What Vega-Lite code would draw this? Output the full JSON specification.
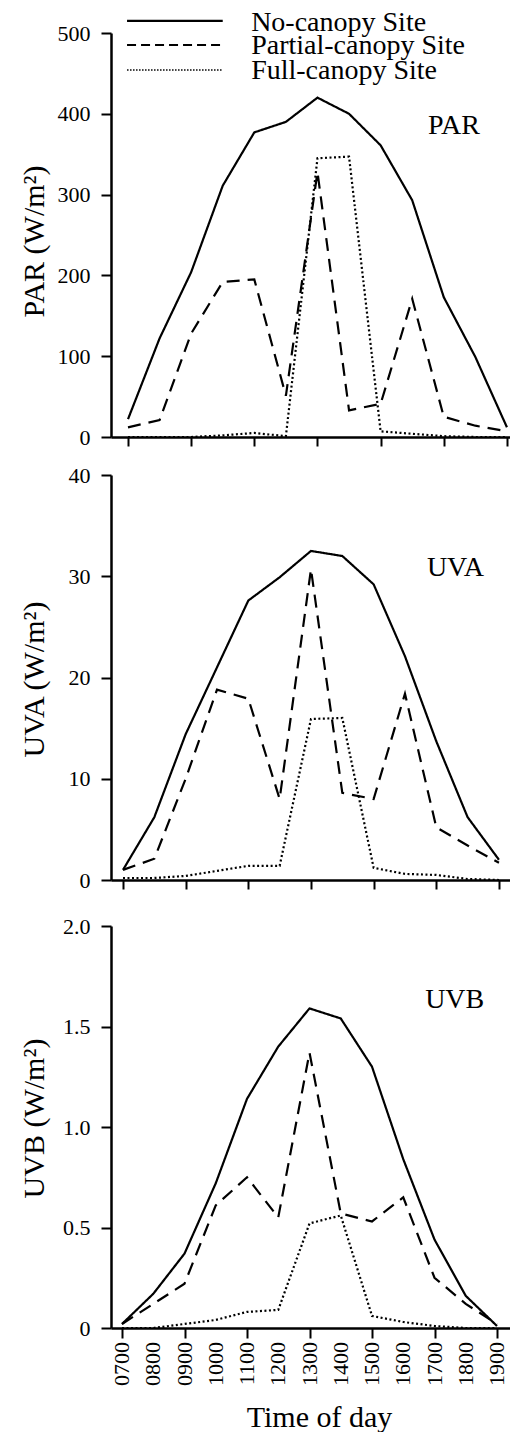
{
  "$schema": "https://vega.github.io/schema/vega-lite/v6.json",
  "background": "white",
  "padding": {"left": 19, "top": 8, "right": 0, "bottom": 0},
  "bounds": "flush",
  "spacing": 38,
  "config": {
    "font": "Liberation Serif",
    "view": {"stroke": null},
    "axis": {
      "grid": false,
      "domainColor": "black",
      "tickColor": "black",
      "labelColor": "black",
      "titleColor": "black",
      "labelFont": "Liberation Serif",
      "titleFont": "Liberation Serif",
      "labelFontSize": 22,
      "titleFontSize": 30,
      "titleFontWeight": "normal",
      "domainWidth": 2.5,
      "tickWidth": 2
    },
    "text": {"font": "Liberation Serif", "color": "black"}
  },
  "datasets": {
    "par": [
      {"time": 7, "site": "No-canopy Site", "value": 22},
      {"time": 8, "site": "No-canopy Site", "value": 122},
      {"time": 9, "site": "No-canopy Site", "value": 204},
      {"time": 10, "site": "No-canopy Site", "value": 311},
      {"time": 11, "site": "No-canopy Site", "value": 377},
      {"time": 12, "site": "No-canopy Site", "value": 390},
      {"time": 13, "site": "No-canopy Site", "value": 420},
      {"time": 14, "site": "No-canopy Site", "value": 400},
      {"time": 15, "site": "No-canopy Site", "value": 361},
      {"time": 16, "site": "No-canopy Site", "value": 293},
      {"time": 17, "site": "No-canopy Site", "value": 173},
      {"time": 18, "site": "No-canopy Site", "value": 99},
      {"time": 19, "site": "No-canopy Site", "value": 12},
      {"time": 7, "site": "Partial-canopy Site", "value": 12},
      {"time": 8, "site": "Partial-canopy Site", "value": 21},
      {"time": 9, "site": "Partial-canopy Site", "value": 128},
      {"time": 10, "site": "Partial-canopy Site", "value": 192},
      {"time": 11, "site": "Partial-canopy Site", "value": 195},
      {"time": 12, "site": "Partial-canopy Site", "value": 51},
      {"time": 13, "site": "Partial-canopy Site", "value": 328},
      {"time": 14, "site": "Partial-canopy Site", "value": 33},
      {"time": 15, "site": "Partial-canopy Site", "value": 41},
      {"time": 16, "site": "Partial-canopy Site", "value": 171},
      {"time": 17, "site": "Partial-canopy Site", "value": 25},
      {"time": 18, "site": "Partial-canopy Site", "value": 14},
      {"time": 19, "site": "Partial-canopy Site", "value": 7},
      {"time": 7, "site": "Full-canopy Site", "value": 0},
      {"time": 8, "site": "Full-canopy Site", "value": 0},
      {"time": 9, "site": "Full-canopy Site", "value": 0},
      {"time": 10, "site": "Full-canopy Site", "value": 2},
      {"time": 11, "site": "Full-canopy Site", "value": 5},
      {"time": 12, "site": "Full-canopy Site", "value": 1},
      {"time": 13, "site": "Full-canopy Site", "value": 345},
      {"time": 14, "site": "Full-canopy Site", "value": 347},
      {"time": 15, "site": "Full-canopy Site", "value": 7},
      {"time": 16, "site": "Full-canopy Site", "value": 4},
      {"time": 17, "site": "Full-canopy Site", "value": 1},
      {"time": 18, "site": "Full-canopy Site", "value": 0},
      {"time": 19, "site": "Full-canopy Site", "value": 0}
    ],
    "uva": [
      {"time": 7, "site": "No-canopy Site", "value": 1.0},
      {"time": 8, "site": "No-canopy Site", "value": 6.2},
      {"time": 9, "site": "No-canopy Site", "value": 14.4},
      {"time": 10, "site": "No-canopy Site", "value": 21.0},
      {"time": 11, "site": "No-canopy Site", "value": 27.6},
      {"time": 12, "site": "No-canopy Site", "value": 29.9},
      {"time": 13, "site": "No-canopy Site", "value": 32.5},
      {"time": 14, "site": "No-canopy Site", "value": 32.0},
      {"time": 15, "site": "No-canopy Site", "value": 29.2},
      {"time": 16, "site": "No-canopy Site", "value": 22.1},
      {"time": 17, "site": "No-canopy Site", "value": 13.7},
      {"time": 18, "site": "No-canopy Site", "value": 6.2},
      {"time": 19, "site": "No-canopy Site", "value": 2.0},
      {"time": 7, "site": "Partial-canopy Site", "value": 1.0},
      {"time": 8, "site": "Partial-canopy Site", "value": 2.1},
      {"time": 9, "site": "Partial-canopy Site", "value": 10.0},
      {"time": 10, "site": "Partial-canopy Site", "value": 18.8},
      {"time": 11, "site": "Partial-canopy Site", "value": 17.9},
      {"time": 12, "site": "Partial-canopy Site", "value": 8.0},
      {"time": 13, "site": "Partial-canopy Site", "value": 30.7},
      {"time": 14, "site": "Partial-canopy Site", "value": 8.6},
      {"time": 15, "site": "Partial-canopy Site", "value": 8.0},
      {"time": 16, "site": "Partial-canopy Site", "value": 18.4},
      {"time": 17, "site": "Partial-canopy Site", "value": 5.2},
      {"time": 18, "site": "Partial-canopy Site", "value": 3.4},
      {"time": 19, "site": "Partial-canopy Site", "value": 1.7},
      {"time": 7, "site": "Full-canopy Site", "value": 0.2},
      {"time": 8, "site": "Full-canopy Site", "value": 0.2},
      {"time": 9, "site": "Full-canopy Site", "value": 0.4},
      {"time": 10, "site": "Full-canopy Site", "value": 0.9},
      {"time": 11, "site": "Full-canopy Site", "value": 1.4},
      {"time": 12, "site": "Full-canopy Site", "value": 1.4},
      {"time": 13, "site": "Full-canopy Site", "value": 15.9},
      {"time": 14, "site": "Full-canopy Site", "value": 16.0},
      {"time": 15, "site": "Full-canopy Site", "value": 1.2},
      {"time": 16, "site": "Full-canopy Site", "value": 0.6},
      {"time": 17, "site": "Full-canopy Site", "value": 0.5},
      {"time": 18, "site": "Full-canopy Site", "value": 0.1},
      {"time": 19, "site": "Full-canopy Site", "value": 0.0}
    ],
    "uvb": [
      {"time": 7, "site": "No-canopy Site", "value": 0.02},
      {"time": 8, "site": "No-canopy Site", "value": 0.17},
      {"time": 9, "site": "No-canopy Site", "value": 0.37},
      {"time": 10, "site": "No-canopy Site", "value": 0.72},
      {"time": 11, "site": "No-canopy Site", "value": 1.14},
      {"time": 12, "site": "No-canopy Site", "value": 1.40},
      {"time": 13, "site": "No-canopy Site", "value": 1.59},
      {"time": 14, "site": "No-canopy Site", "value": 1.54},
      {"time": 15, "site": "No-canopy Site", "value": 1.30},
      {"time": 16, "site": "No-canopy Site", "value": 0.84},
      {"time": 17, "site": "No-canopy Site", "value": 0.44},
      {"time": 18, "site": "No-canopy Site", "value": 0.16},
      {"time": 19, "site": "No-canopy Site", "value": 0.01},
      {"time": 7, "site": "Partial-canopy Site", "value": 0.02},
      {"time": 8, "site": "Partial-canopy Site", "value": 0.12},
      {"time": 9, "site": "Partial-canopy Site", "value": 0.22},
      {"time": 10, "site": "Partial-canopy Site", "value": 0.61},
      {"time": 11, "site": "Partial-canopy Site", "value": 0.75},
      {"time": 12, "site": "Partial-canopy Site", "value": 0.55},
      {"time": 13, "site": "Partial-canopy Site", "value": 1.37},
      {"time": 14, "site": "Partial-canopy Site", "value": 0.57},
      {"time": 15, "site": "Partial-canopy Site", "value": 0.53},
      {"time": 16, "site": "Partial-canopy Site", "value": 0.65},
      {"time": 17, "site": "Partial-canopy Site", "value": 0.25},
      {"time": 18, "site": "Partial-canopy Site", "value": 0.12},
      {"time": 19, "site": "Partial-canopy Site", "value": 0.02},
      {"time": 7, "site": "Full-canopy Site", "value": 0.0},
      {"time": 8, "site": "Full-canopy Site", "value": 0.0},
      {"time": 9, "site": "Full-canopy Site", "value": 0.02},
      {"time": 10, "site": "Full-canopy Site", "value": 0.04},
      {"time": 11, "site": "Full-canopy Site", "value": 0.08},
      {"time": 12, "site": "Full-canopy Site", "value": 0.09},
      {"time": 13, "site": "Full-canopy Site", "value": 0.52},
      {"time": 14, "site": "Full-canopy Site", "value": 0.56},
      {"time": 15, "site": "Full-canopy Site", "value": 0.06},
      {"time": 16, "site": "Full-canopy Site", "value": 0.03},
      {"time": 17, "site": "Full-canopy Site", "value": 0.01},
      {"time": 18, "site": "Full-canopy Site", "value": 0.0},
      {"time": 19, "site": "Full-canopy Site", "value": 0.0}
    ],
    "xlabels": [
      {"time": 7, "label": "0700"},
      {"time": 8, "label": "0800"},
      {"time": 9, "label": "0900"},
      {"time": 10, "label": "1000"},
      {"time": 11, "label": "1100"},
      {"time": 12, "label": "1200"},
      {"time": 13, "label": "1300"},
      {"time": 14, "label": "1400"},
      {"time": 15, "label": "1500"},
      {"time": 16, "label": "1600"},
      {"time": 17, "label": "1700"},
      {"time": 18, "label": "1800"},
      {"time": 19, "label": "1900"}
    ]
  },
  "vconcat": [
    {
      "width": 404,
      "height": 404,
      "layer": [
        {
          "data": {"name": "par"},
          "mark": {"type": "line", "strokeWidth": 2.2, "color": "black"},
          "encoding": {
            "x": {"field": "time", "type": "quantitative",
              "scale": {"domain": [6.462, 19.255], "nice": false, "zero": false},
              "axis": {"values": [7,8,9,10,11,12,13,14,15,16,17,18,19], "labels": false, "tickSize": 9, "tickWidth": 2, "domainWidth": 2.5, "title": null}},
            "y": {"field": "value", "type": "quantitative",
              "scale": {"domain": [0, 500], "nice": false},
              "axis": {"values": [0,100,200,300,400,500], "tickSize": 10, "tickWidth": 2, "domainWidth": 2.5, "labelPadding": 11,
                "labelFontSize": 22,
                "title": "PAR (W/m²)", "titleFontSize": 30,
                "titleX": -77, "titleY": 208, "titleBaseline": "middle", "titleAngle": 270, "titleAlign": "center"}},
            "strokeDash": {"field": "site", "type": "nominal",
              "scale": {"domain": ["No-canopy Site", "Partial-canopy Site", "Full-canopy Site"], "range": [[1, 0], [13, 8], [2, 2.5]]},
              "legend": null}
          }
        },
        {
          "data": {"values": [{}]},
          "mark": {"type": "text", "fontSize": 28, "font": "Liberation Serif", "align": "left", "baseline": "alphabetic"},
          "encoding": {"x": {"datum": 16.5}, "y": {"datum": 375}, "text": {"value": "PAR"}}
        },
        {
          "data": {"values": [{}]},
          "mark": {"type": "rule", "strokeWidth": 2.2, "color": "black"},
          "encoding": {"x": {"datum": 6.97}, "x2": {"datum": 10.0}, "y": {"datum": 514.9}}
        },
        {
          "data": {"values": [{}]},
          "mark": {"type": "rule", "strokeWidth": 2, "color": "black", "strokeDash": [9, 5]},
          "encoding": {"x": {"datum": 6.97}, "x2": {"datum": 10.0}, "y": {"datum": 485.1}}
        },
        {
          "data": {"values": [{}]},
          "mark": {"type": "rule", "strokeWidth": 1.5, "color": "black", "strokeDash": [1.5, 1.5]},
          "encoding": {"x": {"datum": 6.97}, "x2": {"datum": 10.0}, "y": {"datum": 454.2}}
        },
        {
          "data": {"values": [{}]},
          "mark": {"type": "text", "fontSize": 28, "font": "Liberation Serif", "align": "left", "baseline": "alphabetic"},
          "encoding": {"x": {"datum": 10.9}, "y": {"datum": 502.5}, "text": {"value": "No-canopy Site"}}
        },
        {
          "data": {"values": [{}]},
          "mark": {"type": "text", "fontSize": 28, "font": "Liberation Serif", "align": "left", "baseline": "alphabetic"},
          "encoding": {"x": {"datum": 10.9}, "y": {"datum": 474}, "text": {"value": "Partial-canopy Site"}}
        },
        {
          "data": {"values": [{}]},
          "mark": {"type": "text", "fontSize": 28, "font": "Liberation Serif", "align": "left", "baseline": "alphabetic"},
          "encoding": {"x": {"datum": 10.9}, "y": {"datum": 443}, "text": {"value": "Full-canopy Site"}}
        }
      ]
    },
    {
      "bounds": "flush",
      "spacing": 46,
      "vconcat": [
        {
          "width": 404,
          "height": 405,
          "layer": [
            {
              "data": {"name": "uva"},
              "mark": {"type": "line", "strokeWidth": 2.2, "color": "black"},
              "encoding": {
                "x": {"field": "time", "type": "quantitative",
                  "scale": {"domain": [6.617, 19.512], "nice": false, "zero": false},
                  "axis": {"values": [7,8,9,10,11,12,13,14,15,16,17,18,19], "labels": false, "tickSize": 9, "tickWidth": 2, "domainWidth": 2.5, "title": null}},
                "y": {"field": "value", "type": "quantitative",
                  "scale": {"domain": [0, 40], "nice": false},
                  "axis": {"values": [0,10,20,30,40], "tickSize": 10, "tickWidth": 2, "domainWidth": 2.5, "labelPadding": 11,
                    "labelFontSize": 22,
                    "title": "UVA (W/m²)", "titleFontSize": 30,
                    "titleX": -77, "titleY": 204, "titleBaseline": "middle", "titleAngle": 270, "titleAlign": "center"}},
                "strokeDash": {"field": "site", "type": "nominal",
                  "scale": {"domain": ["No-canopy Site", "Partial-canopy Site", "Full-canopy Site"], "range": [[1, 0], [13, 8], [2, 2.5]]},
                  "legend": null}
              }
            },
            {
              "data": {"values": [{}]},
              "mark": {"type": "text", "fontSize": 28, "font": "Liberation Serif", "align": "left", "baseline": "alphabetic"},
              "encoding": {"x": {"datum": 16.7}, "y": {"datum": 30.0}, "text": {"value": "UVA"}}
            }
          ]
        },
        {
          "width": 404,
          "height": 402,
          "layer": [
            {
              "data": {"name": "uvb"},
              "mark": {"type": "line", "strokeWidth": 2.2, "color": "black"},
              "encoding": {
                "x": {"field": "time", "type": "quantitative",
                  "scale": {"domain": [6.648, 19.576], "nice": false, "zero": false},
                  "axis": {"values": [7,8,9,10,11,12,13,14,15,16,17,18,19], "labels": false, "tickSize": 10, "tickWidth": 2, "domainWidth": 2.5,
                    "title": "Time of day", "titleFontSize": 30,
                    "titleX": 208, "titleY": 98, "titleBaseline": "alphabetic", "titleAlign": "center"}},
                "y": {"field": "value", "type": "quantitative",
                  "scale": {"domain": [0, 2], "nice": false},
                  "axis": {"values": [0, 0.5, 1, 1.5, 2], "tickSize": 10, "tickWidth": 2, "domainWidth": 2.5, "labelPadding": 11,
                    "labelFontSize": 22,
                    "labelExpr": "datum.value == 0 ? '0' : format(datum.value, '.1f')",
                    "title": "UVB (W/m²)", "titleFontSize": 30,
                    "titleX": -77, "titleY": 192, "titleBaseline": "middle", "titleAngle": 270, "titleAlign": "center"}},
                "strokeDash": {"field": "site", "type": "nominal",
                  "scale": {"domain": ["No-canopy Site", "Partial-canopy Site", "Full-canopy Site"], "range": [[1, 0], [13, 8], [2, 2.5]]},
                  "legend": null}
              }
            },
            {
              "data": {"name": "xlabels"},
              "mark": {"type": "text", "fontSize": 22, "font": "Liberation Serif", "angle": 270, "align": "right", "baseline": "middle", "yOffset": 14},
              "encoding": {"x": {"field": "time", "type": "quantitative"}, "y": {"datum": 0}, "text": {"field": "label"}}
            },
            {
              "data": {"values": [{}]},
              "mark": {"type": "text", "fontSize": 28, "font": "Liberation Serif", "align": "left", "baseline": "alphabetic"},
              "encoding": {"x": {"datum": 16.7}, "y": {"datum": 1.59}, "text": {"value": "UVB"}}
            }
          ]
        }
      ]
    }
  ]
}
